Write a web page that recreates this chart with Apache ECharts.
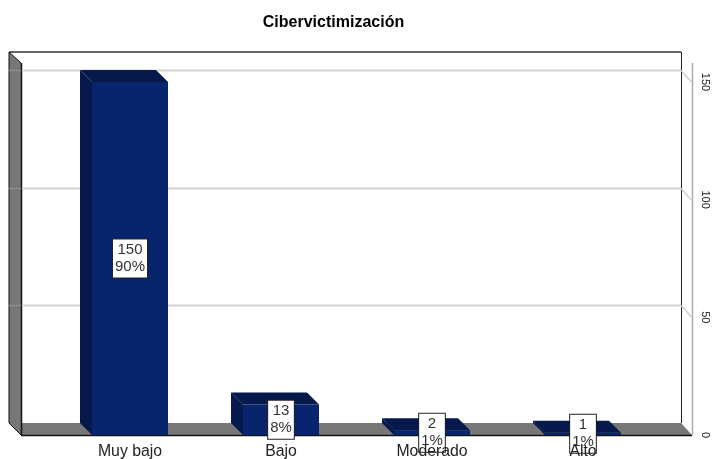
<!DOCTYPE html>
<html><head><meta charset="utf-8">
<style>html,body{margin:0;padding:0;background:#fff}#c{width:713px;height:459px}</style>
<script src="https://cdn.jsdelivr.net/npm/echarts@6/dist/echarts.min.js"></script>
</head><body><div id="c"></div>
<script>
const titleText = 'Cibervictimización';
const categories = ['Muy bajo', 'Bajo', 'Moderado', 'Alto'];
const counts = [150, 13, 2, 1];
const percents = ['90%', '8%', '1%', '1%'];
const ticks = [0, 50, 100, 150];

const FONT = '"Liberation Sans", Arial, sans-serif';
const DEPTH = 12, FRONT = '#08246C', SHADE = '#05194C', WALL = '#777777';
const L = 9, R = 692, T = 52, B = 435;

const chart = echarts.init(document.getElementById('c'), null, {renderer: 'canvas'});

function poly(points, fill, stroke, lw) {
  return {type: 'polygon', shape: {points}, silent: true,
    style: {fill: fill || 'none', stroke: stroke || 'none', lineWidth: lw || 1}};
}
function line(x1, y1, x2, y2, stroke, lw) {
  return {type: 'line', silent: true, shape: {x1, y1, x2, y2}, style: {stroke, lineWidth: lw || 1}};
}

chart.setOption({
  animation: false,
  backgroundColor: '#fff',
  title: {text: titleText, left: 328.5, top: 10, textAlign: 'center',
    textStyle: {fontFamily: FONT, fontSize: 16, fontWeight: 'bold', color: '#000'}},
  grid: {left: 54.5, right: 54.5, top: 82, bottom: 24, outerBoundsMode: 'none'},
  xAxis: {type: 'category', data: categories, z: 6,
    axisLine: {show: false}, axisTick: {show: false}, splitLine: {show: false},
    axisLabel: {color: '#222', fontFamily: FONT, fontSize: 15.8, margin: 9, interval: 0}},
  yAxis: {type: 'value', min: 0, max: 150, interval: 50, position: 'right', offset: 33.5,
    axisLine: {show: false}, axisTick: {show: false}, splitLine: {show: false},
    axisLabel: {rotate: -90, color: '#222', fontFamily: FONT, fontSize: 11, margin: 8}},
  graphic: {elements: [
    {type: 'group', z: -10, silent: true, children: [
      poly([[L, T], [R - 11, T], [R - 11, B - DEPTH], [L, B - DEPTH]], '#fff'),
      line(L, T, R - 11, T, '#666', 2),
      line(R - 10.5, T, R - 10.5, B - DEPTH, '#222'),
      poly([[L, T], [L + DEPTH, T + 11], [L + DEPTH, B], [L, B - DEPTH]], WALL),
      poly([[L, B - DEPTH], [R - 11, B - DEPTH], [R, B], [L + DEPTH, B]], WALL),
      line(L, T, L + DEPTH, T + 11, '#111'),
      line(L, T, L, B - DEPTH, '#111'),
      line(L, B - DEPTH, L + DEPTH, B, '#111'),
      line(L + DEPTH + 0.5, T + 11, L + DEPTH + 0.5, B, '#111', 1.5),
      line(L + DEPTH, B + 0.5, R, B + 0.5, '#111', 1.5),
      line(R + 0.5, T + 11, R + 0.5, B, '#aaa', 1.5)
    ]}
  ]},
  series: [
    {type: 'custom', coordinateSystem: 'cartesian2d', z: 1, silent: true,
      data: ticks.filter(t => t > 0).map(t => [0, t]),
      encode: {x: 0, y: 1},
      renderItem(params, api) {
        const y = Math.round(api.coord([0, api.value(1)])[1]);
        return {type: 'group', children: [
          line(L, y - DEPTH + 0.5, L + DEPTH, y - DEPTH + 0.5, '#8c8c8c', 1.5),
          line(L + DEPTH + 1, y - DEPTH + 0.5, R - 11, y - DEPTH + 0.5, '#d2d2d2', 2),
          line(R - 11, y - DEPTH + 0.5, R, y + 0.5, '#cfcfcf', 1.5)
        ]};
      }},
    {type: 'custom', coordinateSystem: 'cartesian2d', z: 3, silent: true,
      data: counts.map((v, i) => [i, v, percents[i]]),
      encode: {x: 0, y: 1},
      renderItem(params, api) {
        const top = api.coord([api.value(0), api.value(1)]);
        const base = api.coord([api.value(0), 0]);
        const w = api.size([1, 0])[0] * 0.5033;
        const x0 = top[0] - w / 2, x1 = top[0] + w / 2, yT = top[1], yB = base[1];
        const d = DEPTH;
        const label = api.value(1) + '\n' + api.value(2);
        return {type: 'group', children: [
          poly([[x0 - d, yT - d], [x0, yT], [x0, yB], [x0 - d, yB - d]], SHADE),
          poly([[x0 - d, yT - d], [x1 - d, yT - d], [x1, yT], [x0, yT]], SHADE),
          {type: 'rect', silent: true, shape: {x: x0, y: yT, width: w, height: yB - yT}, style: {fill: FRONT}},
          {type: 'text', silent: true, x: top[0], y: (yT + yB) / 2,
            style: {text: label, align: 'center', verticalAlign: 'middle',
              fontFamily: FONT, fontSize: 15, lineHeight: 17, fill: '#333',
              backgroundColor: '#fff', borderColor: '#222', borderWidth: 1,
              padding: [2, 2, 2, 2]}}
        ]};
      }}
  ]
});
</script></body></html>
